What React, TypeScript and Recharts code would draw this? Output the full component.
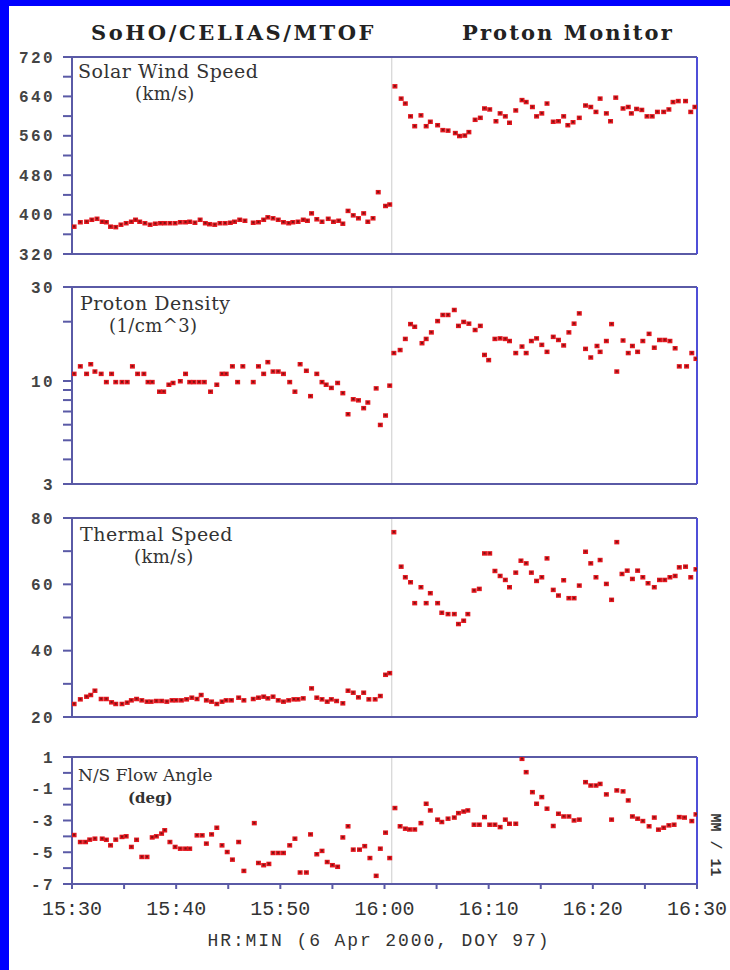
import React from 'react';
import { ScatterChart, Scatter, XAxis, YAxis, ReferenceLine } from 'recharts';

// ---- time axis (minutes after 15:30) ----
const xTicks = [0, 5, 10, 15, 20, 25, 30, 35, 40, 45, 50, 55, 60];
const xTickLabels = ['15:30', '', '15:40', '', '15:50', '', '16:00', '', '16:10', '', '16:20', '', '16:30'];

// ---- Solar wind speed (km/s) ----
const speedTime = [0.2,0.8,1.4,1.9,2.4,2.9,3.3,3.7,4.2,4.7,5.2,5.7,6.1,6.5,7.0,7.5,8.0,8.5,8.9,9.4,9.9,10.4,10.9,11.3,11.8,12.3,12.8,13.2,13.7,14.2,14.7,15.2,15.6,16.1,16.6,17.4,17.9,18.4,18.8,19.3,19.8,20.3,20.8,21.2,21.7,22.2,22.6,23.0,23.5,24.0,24.6,25.1,25.6,26.0,26.5,27.0,27.5,28.0,28.4,28.9,29.4,30.1,30.5,
  31.0,31.6,32.0,32.5,32.9,33.5,34.0,34.4,35.1,35.6,36.1,36.8,37.2,37.7,38.1,38.7,39.2,39.6,40.1,40.7,41.1,41.6,42.0,42.6,43.2,43.6,44.2,44.6,45.1,45.6,46.2,46.7,47.2,47.6,48.1,48.7,49.3,49.8,50.3,50.7,51.3,51.7,52.2,52.9,53.4,53.7,54.2,54.7,55.2,55.7,56.2,56.8,57.3,57.7,58.2,58.9,59.4,59.8];
const speedValue = [376,385,386,390,392,386,385,376,375,380,383,386,390,386,383,380,382,383,383,383,383,385,385,386,384,390,383,381,380,383,383,384,386,390,388,384,385,390,395,393,390,385,383,385,386,390,388,403,391,386,392,386,388,382,408,399,393,403,386,393,446,418,421,
  661,636,626,600,580,602,580,589,582,572,571,566,560,561,568,593,597,616,614,590,606,600,587,612,633,629,619,600,606,626,589,590,600,582,588,597,622,619,609,636,606,590,638,616,619,606,615,613,600,600,609,609,614,629,631,631,609,619];

// ---- Proton density (1/cm^3) ----
const densityTime = [0.2,0.8,1.4,1.8,2.2,2.8,3.3,3.8,4.2,4.8,5.3,5.8,6.3,6.9,7.3,7.7,8.4,8.8,9.3,9.7,10.4,10.9,11.3,11.7,12.2,12.7,13.3,13.9,14.4,14.8,15.4,15.9,16.4,17.4,17.9,18.4,18.8,19.3,19.8,20.3,20.9,21.4,21.9,22.5,22.9,23.5,24.0,24.4,24.9,25.5,26.0,26.5,27.0,27.5,28.0,28.4,29.2,29.6,30.1,30.5,
  30.9,31.5,32.0,32.5,32.9,33.6,34.0,34.5,35.1,35.6,36.1,36.7,37.1,37.6,38.1,38.7,39.2,39.6,40.0,40.6,41.1,41.6,42.0,42.6,43.2,43.6,44.1,44.6,45.1,45.6,46.2,46.7,47.2,47.7,48.2,48.7,49.3,49.8,50.4,50.7,51.3,51.8,52.3,52.9,53.4,53.8,54.3,54.8,55.4,55.9,56.4,56.9,57.4,57.9,58.3,59.0,59.5,59.9];
const densityValue = [10.9,11.9,10.9,12.2,11.2,10.9,9.9,10.9,9.9,9.9,9.9,11.9,10.9,10.9,9.9,9.9,8.85,8.85,9.6,9.8,10.0,10.9,9.9,9.9,9.9,9.9,8.85,9.6,10.9,10.9,11.9,9.9,11.9,9.9,11.9,10.9,12.5,11.2,11.2,10.9,9.9,8.85,12.2,11.3,8.4,10.9,9.9,9.6,9.25,9.8,8.7,6.8,8.1,8.0,7.3,7.8,9.2,6.0,6.7,9.5,
  13.9,14.4,16.4,19.5,18.9,15.6,16.4,17.7,20.2,21.7,21.7,23.0,19.1,20.0,19.6,18.2,19.1,13.6,12.8,16.4,16.5,16.4,16.0,13.9,15.0,13.9,16.0,16.5,15.3,14.1,16.8,16.2,15.2,17.7,19.6,22.1,14.6,13.2,15.1,14.1,16.0,19.5,11.2,16.1,13.9,15.1,14.1,16.0,17.4,14.8,16.2,16.2,16.0,14.7,11.9,11.9,13.9,13.0];

// ---- Thermal speed (km/s) ----
const thermalTime = [0.2,0.8,1.4,1.8,2.2,2.8,3.3,3.8,4.2,4.8,5.3,5.7,6.2,6.7,7.2,7.6,8.1,8.6,9.1,9.6,10.0,10.5,11.0,11.5,12.0,12.4,12.9,13.4,13.9,14.4,14.8,15.3,16.0,16.5,17.4,17.9,18.4,18.8,19.3,19.8,20.3,20.8,21.3,21.7,22.2,23.0,23.5,24.0,24.5,24.9,25.4,26.0,26.5,27.0,27.5,28.0,28.5,29.1,29.6,30.1,30.5,
  30.9,31.6,32.0,32.5,32.9,33.5,34.0,34.4,35.1,35.5,36.1,36.7,37.1,37.6,38.0,38.6,39.1,39.6,40.1,40.6,41.1,41.6,42.0,42.6,43.1,43.6,44.1,44.6,45.1,45.6,46.2,46.7,47.2,47.7,48.2,48.7,49.3,49.8,50.3,50.7,51.3,51.8,52.3,52.8,53.3,53.8,54.3,54.8,55.3,55.9,56.4,56.9,57.4,57.9,58.3,58.9,59.4,59.9];
const thermalValue = [24.0,25.4,26.2,26.7,28.0,25.5,25.5,24.5,24.0,24.0,24.4,25.1,25.5,25.1,24.7,24.7,24.9,24.9,24.7,25.1,25.1,25.1,25.4,25.9,25.5,26.7,25.1,24.7,24.0,24.7,25.1,25.1,25.9,25.1,25.5,25.9,26.2,25.7,26.2,25.1,24.7,25.1,25.4,25.4,25.7,28.7,25.9,25.4,24.7,25.4,24.9,24.2,28.0,27.4,26.0,27.4,25.4,25.4,26.4,32.8,33.3,
  75.8,65.4,62.2,60.7,54.4,59.2,54.4,57.4,54.4,51.5,51.1,51.1,48.1,49.1,51.1,58.2,58.7,69.4,69.4,64.1,62.6,61.4,59.2,63.6,67.2,66.4,63.6,61.1,62.2,67.9,58.4,56.7,61.3,55.9,55.9,59.7,69.9,66.4,62.2,67.4,60.2,55.4,72.8,63.2,64.2,61.7,64.2,62.2,60.4,59.2,61.4,61.4,62.2,62.6,65.2,65.4,62.2,64.6];

// ---- N/S flow angle (deg) ----
const angleTime = [0.2,0.8,1.3,1.7,2.2,2.9,3.3,3.7,4.2,4.8,5.2,5.7,6.2,6.7,7.2,7.7,8.1,8.6,8.9,9.4,9.9,10.4,10.9,11.3,12.0,12.5,12.9,13.4,13.9,14.4,14.9,15.4,16.0,16.5,17.5,17.9,18.4,18.9,19.3,19.8,20.3,20.9,21.4,21.9,22.5,22.9,23.5,24.0,24.5,25.0,25.5,26.0,26.5,27.0,27.6,28.1,28.6,29.2,29.6,30.1,30.5,
  31.0,31.5,32.0,32.4,32.9,33.5,34.0,34.4,35.1,35.5,36.1,36.7,37.1,37.6,38.0,38.6,39.1,39.6,40.1,40.6,41.1,41.6,42.0,42.6,43.2,43.6,44.2,44.6,45.1,45.6,46.2,46.7,47.2,47.7,48.2,48.7,49.3,49.8,50.3,50.7,51.3,51.8,52.3,52.9,53.4,53.8,54.3,54.8,55.4,55.9,56.3,56.8,57.3,57.8,58.3,58.8,59.5,59.9];
const angleValue = [-3.9,-4.34,-4.34,-4.19,-4.13,-4.13,-4.2,-4.55,-4.19,-4.02,-3.98,-4.65,-4.2,-5.28,-5.28,-4.05,-3.98,-3.81,-3.6,-4.34,-4.65,-4.76,-4.76,-4.76,-3.92,-3.92,-4.44,-3.86,-3.44,-4.55,-4.97,-5.45,-4.34,-6.16,-3.15,-5.66,-5.8,-5.72,-5.03,-5.03,-5.03,-4.55,-4.13,-6.26,-6.26,-3.86,-5.11,-4.9,-5.6,-5.8,-5.9,-4.05,-3.35,-4.82,-4.82,-4.6,-5.35,-6.47,-4.76,-3.75,-5.35,
  -2.2,-3.35,-3.5,-3.55,-3.55,-3.15,-1.93,-2.35,-2.93,-3.08,-2.87,-2.8,-2.52,-2.42,-2.35,-3.25,-3.25,-2.77,-3.25,-3.25,-3.4,-2.93,-3.19,-3.19,0.9,0.06,-1.2,-1.93,-1.51,-2.24,-3.33,-2.56,-2.73,-2.73,-2.98,-2.93,-0.57,-0.78,-0.78,-0.68,-1.34,-2.93,-1.09,-1.15,-1.72,-2.73,-2.87,-3.02,-3.35,-2.8,-3.56,-3.44,-3.29,-3.25,-2.77,-2.8,-3.02,-2.6];

// ---- y ticks ----
const speedTicks = [320, 360, 400, 440, 480, 520, 560, 600, 640, 680, 720];
const speedLabeled = [320, 400, 480, 560, 640, 720];
const densityTicks = [3, 4, 5, 6, 7, 8, 9, 10, 20, 30];
const densityLabeled = [3, 10, 30];
const thermalTicks = [20, 30, 40, 50, 60, 70, 80];
const thermalLabeled = [20, 40, 60, 80];
const angleTicks = [-7, -6, -5, -4, -3, -2, -1, 0, 1];
const angleLabeled = [-7, -5, -3, -1, 1];

const gapMinute = 30.7;

const toPoints = (ts: number[], vs: number[]) => ts.map((t, i) => ({ t, v: vs[i] }));

const AXIS = '#5a5aa6';
const RAXIS = '#4f4fd8';

const Dot = (p: any) => {
  if (p.cx == null || p.cy == null) return null;
  return (
    <g>
      <rect x={p.cx - 2.5} y={p.cy - 2} width={5} height={4.5} fill="#e3161e" />
      <rect x={p.cx - 1} y={p.cy - 1} width={2} height={2} fill="#7a1414" />
    </g>
  );
};

type PanelProps = {
  top: number;
  plotHeight: number;
  bottomH: number;
  data: { t: number; v: number }[];
  domain: [number, number];
  ticks: number[];
  labeled: number[];
  log?: boolean;
  showX?: boolean;
};

const Panel = ({ top, plotHeight, bottomH, data, domain, ticks, labeled, log, showX }: PanelProps) => {
  const height = 8 + plotHeight + bottomH;
  const yFmt = (v: number) => (labeled.indexOf(v) >= 0 ? String(v) : '');
  const xFmt = (v: number) => {
    const i = xTicks.indexOf(v);
    return i >= 0 ? xTickLabels[i] : '';
  };
  return (
    <div style={{ position: 'absolute', left: 0, top }}>
      <ScatterChart width={730} height={height} margin={{ top: 0, right: 0, bottom: 0, left: 0 }}>
        <XAxis
          xAxisId="b"
          dataKey="t"
          type="number"
          domain={[0, 60]}
          ticks={xTicks}
          allowDataOverflow
          orientation="bottom"
          height={bottomH}
          stroke={AXIS}
          strokeWidth={2}
          tickSize={5}
          tickMargin={12}
          interval={0}
          tick={showX ? { fontFamily: 'Liberation Mono', fontSize: 20, fill: '#333' } : false}
          tickFormatter={xFmt}
        />
        <XAxis
          xAxisId="t"
          type="number"
          domain={[0, 60]}
          ticks={xTicks}
          allowDataOverflow
          orientation="top"
          height={8}
          stroke={AXIS}
          strokeWidth={2}
          tickSize={4}
          tick={false}
        />
        <YAxis
          yAxisId="l"
          dataKey="v"
          type="number"
          scale={log ? 'log' : 'linear'}
          domain={domain}
          ticks={ticks}
          allowDataOverflow
          interval={0}
          width={72}
          stroke={AXIS}
          strokeWidth={2}
          tickSize={9}
          tickMargin={8}
          tick={{ fontFamily: 'Liberation Mono', fontWeight: 'bold', fontSize: 16, fill: '#444', letterSpacing: 2.4 }}
          tickFormatter={yFmt}
        />
        <YAxis
          yAxisId="r"
          orientation="right"
          type="number"
          scale={log ? 'log' : 'linear'}
          domain={domain}
          ticks={ticks}
          allowDataOverflow
          interval={0}
          width={33}
          stroke={RAXIS}
          strokeWidth={2}
          tickSize={6}
          tick={false}
        />
        <ReferenceLine xAxisId="b" yAxisId="l" x={gapMinute} stroke="#cccccc" strokeWidth={1} />
        <Scatter xAxisId="b" yAxisId="l" data={data} dataKey="v" shape={Dot} isAnimationActive={false} />
      </ScatterChart>
    </div>
  );
};

export default function App() {
  const speed = toPoints(speedTime, speedValue);
  const density = toPoints(densityTime, densityValue);
  const thermal = toPoints(thermalTime, thermalValue);
  const angle = toPoints(angleTime, angleValue);
  const serif = 'DejaVu Serif';
  return (
    <div style={{ position: 'absolute', left: 0, top: 0, width: 730, height: 970, background: '#fff', overflow: 'hidden' }}>
      <Panel top={49} plotHeight={197} bottomH={16} data={speed} domain={[320, 720]} ticks={speedTicks} labeled={speedLabeled} />
      <Panel top={279} plotHeight={197} bottomH={16} data={density} domain={[3, 30]} ticks={densityTicks} labeled={densityLabeled} log />
      <Panel top={510} plotHeight={199} bottomH={16} data={thermal} domain={[20, 80]} ticks={thermalTicks} labeled={thermalLabeled} />
      <Panel top={749} plotHeight={127} bottomH={60} data={angle} domain={[-7, 1]} ticks={angleTicks} labeled={angleLabeled} showX />
      <svg width={730} height={970} style={{ position: 'absolute', left: 0, top: 0, pointerEvents: 'none' }}>
        <rect x={0} y={0} width={9} height={970} fill="#0000ff" />
        <rect x={0} y={0} width={730} height={6} fill="#0000ff" />
        <text x={91} y={40} fontFamily={serif} fontWeight="bold" fontSize={21} letterSpacing={2.6} fill="#222">SoHO/CELIAS/MTOF</text>
        <text x={462} y={40} fontFamily={serif} fontWeight="bold" fontSize={21} letterSpacing={2.1} fill="#222">Proton Monitor</text>
        <text x={78} y={78} fontFamily={serif} fontSize={19} letterSpacing={0.5} fill="#333">Solar Wind Speed</text>
        <text x={135} y={100} fontFamily={serif} fontSize={18} letterSpacing={0.4} fill="#333">(km/s)</text>
        <text x={80} y={310} fontFamily={serif} fontSize={19} letterSpacing={0.5} fill="#333">Proton Density</text>
        <text x={109} y={332} fontFamily={serif} fontSize={18} letterSpacing={0.4} fill="#333">(1/cm^3)</text>
        <text x={80} y={541} fontFamily={serif} fontSize={19} letterSpacing={0.5} fill="#333">Thermal Speed</text>
        <text x={134} y={563} fontFamily={serif} fontSize={18} letterSpacing={0.4} fill="#333">(km/s)</text>
        <text x={78} y={781} fontFamily={serif} fontSize={17} fill="#333">N/S Flow Angle</text>
        <text x={128} y={803} fontFamily={serif} fontSize={15} fontWeight="bold" fill="#333">(deg)</text>
        <text x={379} y={946} textAnchor="middle" fontFamily="Liberation Mono" fontSize={18} letterSpacing={1.9} fill="#333">HR:MIN (6 Apr 2000, DOY 97)</text>
        <text x={0} y={0} transform="translate(711,845) rotate(90)" textAnchor="middle" fontFamily="Liberation Mono" fontWeight="bold" fontSize={15} fill="#333">MM / 11</text>
      </svg>
    </div>
  );
}
